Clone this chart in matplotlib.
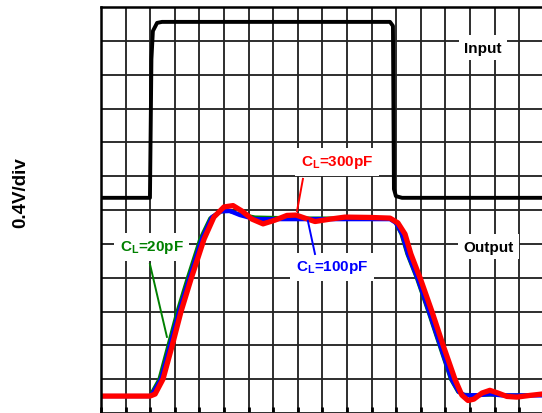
import matplotlib.pyplot as plt

plt.rcParams['font.family'] = ['Liberation Sans', 'DejaVu Sans']
plt.rcParams['mathtext.fontset'] = 'custom'
plt.rcParams['mathtext.rm'] = 'Liberation Sans:bold'
plt.rcParams['mathtext.it'] = 'Liberation Sans:bold'
plt.rcParams['mathtext.bf'] = 'Liberation Sans:bold'

# time and level are both in screen divisions
in_t = [0, 1.99, 2.05, 2.11, 2.28, 2.48, 11.75, 11.87, 11.91, 11.99, 12.24, 17.93]
in_v = [6.36, 6.36, 10.46, 11.29, 11.53, 11.56, 11.56, 11.44, 6.62, 6.41, 6.36, 6.36]

c20_t = [0, 1.99, 2.07, 2.36, 2.72, 3.09, 3.50, 4.02, 4.43, 4.80, 5.16, 5.65, 6.26, 8.09,
         11.75, 11.95, 12.20, 12.44, 12.84, 13.30, 13.76, 14.21, 14.51, 14.74, 15.41, 17.93]
c20_v = [0.50, 0.50, 0.62, 1.0, 1.98, 2.99, 3.96, 5.14, 5.76, 5.94, 5.97, 5.88, 5.79, 5.76,
         5.76, 5.65, 5.29, 4.70, 3.96, 2.99, 1.98, 1.0, 0.62, 0.55, 0.53, 0.53]

c100_t = [0, 1.99, 2.11, 2.44, 2.80, 3.17, 3.58, 4.10, 4.51, 4.88, 5.24, 5.65, 6.26, 8.09,
          11.75, 11.99, 12.24, 12.48, 12.88, 13.34, 13.80, 14.25, 14.55, 14.80, 15.41, 15.81,
          16.3, 17.93]
c100_v = [0.50, 0.50, 0.59, 1.0, 1.98, 2.99, 3.96, 5.14, 5.79, 5.96, 5.97, 5.85, 5.73, 5.73,
          5.73, 5.62, 5.29, 4.70, 3.96, 2.99, 1.98, 1.0, 0.62, 0.52, 0.53, 0.56, 0.52, 0.52]

c300_t = [0, 1.99, 2.20, 2.52, 2.89, 3.25, 3.66, 4.19, 4.59, 5.0, 5.37, 5.73, 6.14, 6.59,
          7.07, 7.56, 7.93, 8.29, 8.70, 9.31, 9.92, 10.93, 11.75, 12.07, 12.36, 12.60, 12.99,
          13.46, 13.92, 14.39, 14.67, 14.92, 15.16, 15.49, 15.81, 16.14, 16.50, 16.91, 17.44,
          17.93]
c300_v = [0.50, 0.50, 0.56, 1.0, 1.98, 2.99, 3.96, 5.14, 5.79, 6.09, 6.13, 5.97, 5.73, 5.59,
          5.70, 5.84, 5.85, 5.76, 5.66, 5.73, 5.79, 5.78, 5.76, 5.62, 5.29, 4.70, 3.96,
          2.99, 1.98, 1.0, 0.53, 0.37, 0.41, 0.59, 0.67, 0.59, 0.49, 0.47, 0.52, 0.56]

if __name__ == '__main__':
    fig = plt.figure(figsize=(5.42, 4.14), dpi=100)
    ax = fig.add_axes([101 / 542, 0, 441 / 542, 406 / 414])
    ax.set_xlim(0, 17.93)
    ax.set_ylim(0, 12)

    # scope graticule
    ax.set_xticks(range(18))
    ax.set_yticks(range(13))
    ax.set_xticklabels([])
    ax.set_yticklabels([])
    ax.tick_params(axis='x', direction='in', length=4, width=2, color='black')
    ax.tick_params(axis='y', length=0)
    ax.grid(True, color='#262626', linewidth=1.35)
    for side in ['right', 'bottom']:
        ax.spines[side].set_visible(False)
    for side in ['left', 'top']:
        ax.spines[side].set_linewidth(1.8)

    lc = dict(solid_joinstyle='round', solid_capstyle='round')
    ax.plot(in_t, in_v, color='black', lw=2.8, **lc)
    ax.plot(c20_t, c20_v, color='green', lw=2.4, **lc)
    ax.plot(c100_t, c100_v, color='blue', lw=3.1, **lc)
    ax.plot(c300_t, c300_v, color='red', lw=3.8, **lc)

    box = dict(facecolor='white', edgecolor='none', pad=4)
    kw = dict(ha='center', va='center', fontsize=11, fontweight='bold', bbox=box, zorder=5)
    ax.text(15.53, 10.79, 'Input', color='black', **kw)
    ax.text(15.77, 4.91, 'Output', color='black', **kw)
    ax.text(9.59, 7.42, r'C$_{L}$=300pF', color='red', **kw)
    ax.text(9.39, 4.32, r'C$_{L}$=100pF', color='blue', **kw)
    ax.text(2.07, 4.91, r'C$_{L}$=20pF', color='green', **kw)

    ax.plot([8.21, 7.97], [6.92, 5.97], color='red', lw=1.4, zorder=6)
    ax.plot([8.70, 8.41], [4.70, 5.68], color='blue', lw=1.4, zorder=6)
    ax.plot([1.99, 2.68], [4.40, 2.25], color='green', lw=1.4, zorder=4)

    fig.text(21 / 542, 1 - 193 / 414, '0.4V/div', rotation=90, ha='center', va='center',
             fontsize=13.5, fontweight='bold')

    plt.savefig('out.png', dpi=100)
    plt.close()
